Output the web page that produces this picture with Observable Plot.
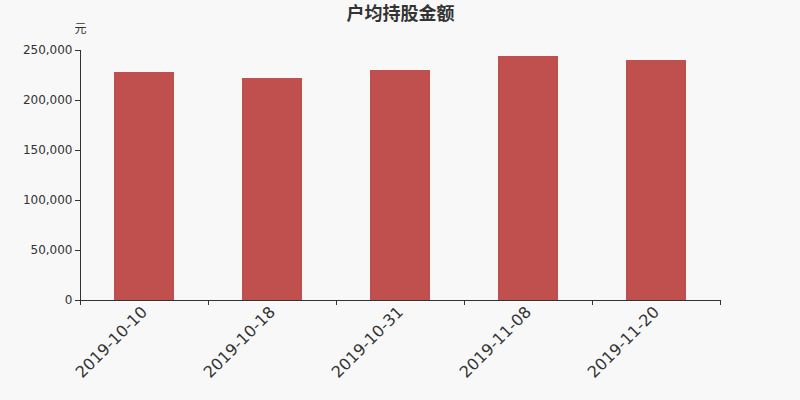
<!DOCTYPE html>
<html>
<head>
<meta charset="utf-8">
<script src="https://cdn.jsdelivr.net/npm/d3@7"></script>
<script src="https://cdn.jsdelivr.net/npm/@observablehq/plot@0.6"></script>
<style>
  html, body { margin: 0; padding: 0; background: #f8f8f8; }
  #chart svg { display: block; }
</style>
</head>
<body>
<div id="chart"></div>
<script>
const dates = ["2019-10-10", "2019-10-18", "2019-10-31", "2019-11-08", "2019-11-20"];
const values = [228000, 222000, 230000, 244000, 240000];
const yTicks = [0, 50000, 100000, 150000, 200000, 250000];
const title = "户均持股金额";
const unit = "元";

const data = dates.map((d, i) => ({date: d, value: values[i]}));
const fmt = d3.format(",");
const font = "'DejaVu Sans', 'Noto Sans CJK SC', sans-serif";

const chart = Plot.plot({
  width: 800,
  height: 400,
  marginLeft: 80,
  marginRight: 80,
  marginTop: 50,
  marginBottom: 100,
  style: {background: "#f8f8f8", fontFamily: font, color: "#333"},
  x: {domain: dates, padding: 0, label: null},
  y: {domain: [0, 250000], label: null},
  marks: [
    Plot.barY(data, {x: "date", y: "value", fill: "#c0504d", insetLeft: 34, insetRight: 34}),
    Plot.frame({anchor: "left", stroke: "#333"}),
    Plot.frame({anchor: "bottom", stroke: "#333"}),
    Plot.axisY({ticks: yTicks, tickFormat: fmt, tickSize: 5, tickPadding: 3, fontSize: 12, stroke: "#333", fill: "#333", label: null}),
    Plot.axisX({tickSize: 0, tickPadding: 9, tickRotate: -45, fontSize: 16, fill: "#333", label: null}),
    Plot.axisX({tickSize: 5, tickFormat: () => "", dx: -64, stroke: "#333", label: null}),
    Plot.axisX([dates[dates.length - 1]], {tickSize: 5, tickFormat: () => "", dx: 64, stroke: "#333", label: null}),
    Plot.text([title], {frameAnchor: "top", lineAnchor: "middle", dy: -36, fontSize: 18, fontWeight: "bold", fill: "#333", fontFamily: "'Noto Sans CJK SC', sans-serif", style: {letterSpacing: "1.5px"}}),
    Plot.text([unit], {frameAnchor: "top-left", textAnchor: "middle", lineAnchor: "middle", dy: -21, fontSize: 12, fill: "#333", fontFamily: "'Noto Sans CJK SC', sans-serif"})
  ]
});
document.getElementById("chart").appendChild(chart);
</script>
</body>
</html>
